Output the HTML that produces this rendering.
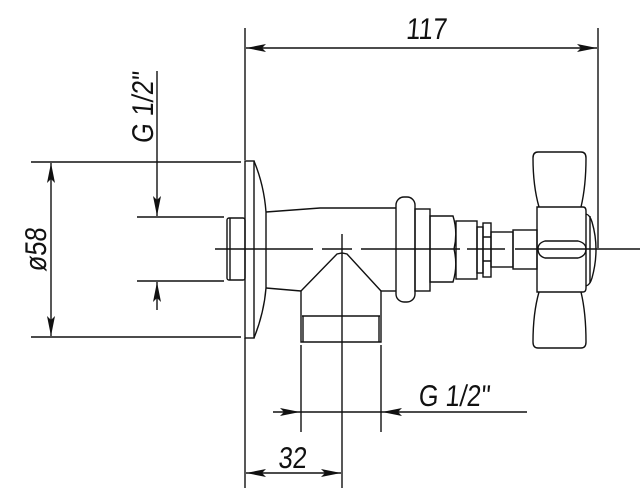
<!DOCTYPE html>
<html><head><meta charset="utf-8"><style>
html,body{margin:0;padding:0;background:#fff;width:640px;height:502px;overflow:hidden}
text{font-family:"Liberation Sans Narrow","Liberation Sans",sans-serif;fill:#111}
</style></head><body>
<svg width="640" height="502" viewBox="0 0 640 502" xmlns="http://www.w3.org/2000/svg">
<defs>
<marker id="a" viewBox="0 0 20 8" refX="20" refY="4" markerWidth="20" markerHeight="8" markerUnits="userSpaceOnUse" orient="auto-start-reverse"><path d="M0,0 L20,4 L0,8 L4,4 Z" fill="#111"/></marker>
</defs>
<g stroke="#111" stroke-width="1.4" fill="none">
<line x1="245" y1="28" x2="245" y2="160"/>
<line x1="245" y1="338" x2="245" y2="488"/>
<line x1="598" y1="28" x2="598" y2="248"/>
<line x1="31" y1="162" x2="241" y2="162"/>
<line x1="31" y1="337" x2="241" y2="337"/>
<line x1="137" y1="217" x2="224" y2="217"/>
<line x1="137" y1="281" x2="224" y2="281"/>
<line x1="301" y1="345" x2="301" y2="432"/>
<line x1="342" y1="345" x2="342" y2="488"/>
<line x1="381" y1="345" x2="381" y2="432"/>
<line x1="246" y1="48" x2="597" y2="48" marker-start="url(#a)" marker-end="url(#a)"/>
<line x1="51" y1="163" x2="51" y2="336" marker-start="url(#a)" marker-end="url(#a)"/>
<line x1="157" y1="71" x2="157" y2="216" marker-end="url(#a)"/>
<line x1="157" y1="310" x2="157" y2="282" marker-end="url(#a)"/>
<line x1="273" y1="412" x2="300" y2="412" marker-end="url(#a)"/>
<line x1="300" y1="412" x2="382" y2="412"/>
<line x1="527" y1="412" x2="382" y2="412" marker-end="url(#a)"/>
<line x1="246" y1="473" x2="341" y2="473" marker-start="url(#a)" marker-end="url(#a)"/>
<path d="M215,249 H313 M322,249 H352 M361,249 H460 M467,249 H505 M515,249 H640" />
<line x1="342" y1="234" x2="342" y2="345"/>
<rect x="245" y="161" width="9" height="177"/>
<path d="M254,161 Q264,185 266,212 L266,288 Q264,313 254,338"/>
<rect x="227" y="218" width="18" height="62" rx="2"/>
<line x1="230" y1="218" x2="230" y2="280"/>
<path d="M266,212 L320,208 L396,208"/>
<path d="M266,288 L301,291"/>
<path d="M381,291 L396,291"/>
<path d="M301,291 L337,254 L342,253 L347,254 L381,291"/>
<path d="M301,291 V342 H381 V291"/>
<line x1="302" y1="316" x2="380" y2="316"/>
<line x1="303" y1="316" x2="303" y2="342"/>
<line x1="379" y1="316" x2="379" y2="342"/>
<rect x="396" y="197" width="19" height="105" rx="8"/>
<rect x="415" y="209" width="15" height="82"/>
<path d="M430,216 H453 Q458,232 454,249 Q458,266 453,282 H430 Z"/>
<rect x="456" y="221" width="21" height="58"/>
<rect x="477" y="227" width="6" height="46"/>
<rect x="483" y="223" width="8" height="54"/>
<path d="M483,237 H491 M483,261 H491"/>
<rect x="491" y="232" width="22" height="35"/>
<rect x="513" y="230" width="24" height="39"/>
<path d="M537,207 H583 Q586,207 586,211 V288 Q586,292 583,292 H537 Z"/>
<path d="M545,241 H578 Q586,243 586,249 Q586,256 578,258 H545 Q538,256 538,249 Q538,243 545,241 Z"/>
<path d="M586,214 Q590,215 592,222 Q600,249 592,278 Q590,285 586,286"/>
<line x1="590" y1="216" x2="590" y2="283"/>
<path d="M539,207 Q533,186 533,158 Q533,152 538,152 H581 Q586,152 586,158 Q586,186 581,207"/>
<path d="M539,292 Q533,313 533,342 Q533,348 538,348 H581 Q586,348 586,342 Q586,313 581,292"/>
</g>
<g font-size="30">
<text transform="translate(426,39) scale(0.85,1) skewX(-6)" text-anchor="middle">117</text>
<text transform="translate(292,468) scale(0.85,1) skewX(-6)" text-anchor="middle">32</text>
<text transform="translate(418,406) scale(0.85,1) skewX(-6)">G 1/2"</text>
<text transform="translate(46,250) rotate(-90) scale(0.85,1) skewX(-6)" text-anchor="middle">ø58</text>
<text transform="translate(153,108) rotate(-90) scale(0.85,1) skewX(-6)" text-anchor="middle">G 1/2"</text>
</g>
</svg>
</body></html>
